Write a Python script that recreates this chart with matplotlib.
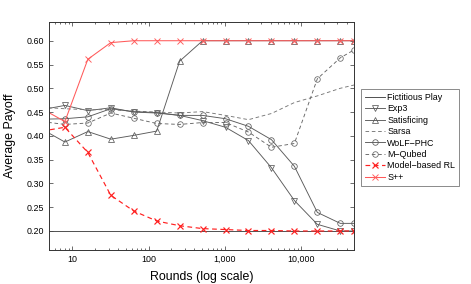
"""
plot.py
Average payoff of learning algorithms over rounds (log scale).
Writes out.png.
"""

import matplotlib
matplotlib.use("Agg")
import matplotlib.pyplot as plt
from matplotlib.ticker import FuncFormatter, LogLocator, MultipleLocator


ROUNDS = [4, 8, 16, 32, 64, 128, 256, 512, 1024, 2048, 4096, 8192, 16384, 32768, 50000]

FICTITIOUS = [0.200, 0.200, 0.200, 0.200, 0.200, 0.200, 0.200, 0.200,
              0.200, 0.200, 0.200, 0.200, 0.200, 0.200, 0.200]
EXP3 = [0.455, 0.464, 0.453, 0.459, 0.450, 0.448, 0.443, 0.432,
        0.418, 0.390, 0.333, 0.264, 0.214, 0.200, 0.200]
SATISFICING = [0.414, 0.387, 0.409, 0.393, 0.401, 0.410, 0.557, 0.600,
               0.600, 0.600, 0.600, 0.600, 0.600, 0.600, 0.600]
SARSA = [0.460, 0.457, 0.455, 0.455, 0.452, 0.450, 0.448, 0.451,
         0.443, 0.434, 0.447, 0.470, 0.484, 0.500, 0.507]
WOLF = [0.435, 0.436, 0.440, 0.457, 0.451, 0.449, 0.443, 0.443,
        0.436, 0.420, 0.392, 0.336, 0.239, 0.216, 0.216]
MQUBED = [0.430, 0.424, 0.427, 0.448, 0.437, 0.426, 0.424, 0.428,
          0.428, 0.408, 0.376, 0.384, 0.520, 0.564, 0.581]
MODEL_RL = [0.410, 0.418, 0.365, 0.275, 0.242, 0.221, 0.211, 0.205,
            0.203, 0.201, 0.201, 0.200, 0.200, 0.200, 0.200]
SPP = [0.457, 0.430, 0.561, 0.596, 0.600, 0.600, 0.600, 0.600,
       0.600, 0.600, 0.600, 0.600, 0.600, 0.600, 0.600]

GRAY = "#5a5a5a"

plt.rcParams["font.family"] = ["Liberation Sans", "DejaVu Sans"]


def main() -> None:
    fig = plt.figure(figsize=(4.71, 2.84), dpi=100)
    ax = fig.add_axes([0.1047, 0.1197, 0.6475, 0.8039])

    mk = dict(markersize=4.0, markerfacecolor="none", markeredgewidth=0.55)
    lw = 0.65

    ax.plot(ROUNDS, FICTITIOUS, color="#444444", lw=lw, label="Fictitious Play")
    ax.plot(ROUNDS, EXP3, color=GRAY, lw=lw, marker="v", markeredgecolor=GRAY,
            label="Exp3", **mk)
    ax.plot(ROUNDS, SATISFICING, color=GRAY, lw=lw, marker="^", markeredgecolor=GRAY,
            label="Satisficing", **mk)
    ax.plot(ROUNDS, SARSA, color="#777777", lw=lw, ls=(0, (4, 3)), label="Sarsa")
    ax.plot(ROUNDS, WOLF, color=GRAY, lw=lw, marker="o", markeredgecolor=GRAY,
            label="WoLF\u2212PHC", **mk)
    ax.plot(ROUNDS, MQUBED, color="#666666", lw=lw, ls=(0, (4, 3)), marker="o",
            markeredgecolor="#666666", label="M\u2212Qubed", **mk)
    ax.plot(ROUNDS, MODEL_RL, color="#ff2020", lw=0.85, ls=(0, (4, 3)), marker="x",
            markeredgecolor="#ff2020", markersize=3.8, markeredgewidth=0.85,
            label="Model\u2212based RL")
    ax.plot(ROUNDS, SPP, color="#ff5a5a", lw=0.75, marker="x",
            markeredgecolor="#ff5a5a", markersize=3.8, markeredgewidth=0.65,
            label="S++")

    ax.set_xscale("log")
    ax.set_xlim(5, 50000)
    ax.set_ylim(0.16, 0.64)
    ax.yaxis.set_major_locator(MultipleLocator(0.05))
    ax.yaxis.set_major_formatter(FuncFormatter(lambda v, _: f"{v:.2f}"))
    ax.xaxis.set_major_locator(LogLocator(base=10))
    ax.xaxis.set_major_formatter(FuncFormatter(lambda v, _: f"{v:,.0f}"))

    ax.tick_params(which="both", direction="in", top=True, right=True,
                   labelsize=6.4, pad=3.5, width=0.5, color="#333333")
    ax.tick_params(which="major", length=2.8)
    ax.tick_params(which="minor", length=1.5)
    for s in ax.spines.values():
        s.set_linewidth(0.7)
        s.set_color("#333333")

    ax.set_xlabel("Rounds (log scale)", fontsize=8.9, labelpad=5)
    ax.set_ylabel("Average Payoff", fontsize=8.9, labelpad=8)

    leg = ax.legend(loc="upper left", bbox_to_anchor=(361 / 471, 1 - 89 / 284),
                    bbox_transform=fig.transFigure, borderaxespad=0,
                    fontsize=6.4, frameon=True, fancybox=False, handlelength=2.2,
                    handletextpad=0.3, labelspacing=0.27, borderpad=0.45)
    leg.get_frame().set_edgecolor("#555555")
    leg.get_frame().set_linewidth(0.6)

    fig.savefig("out.png", dpi=100)
    plt.close(fig)


if __name__ == "__main__":
    main()
